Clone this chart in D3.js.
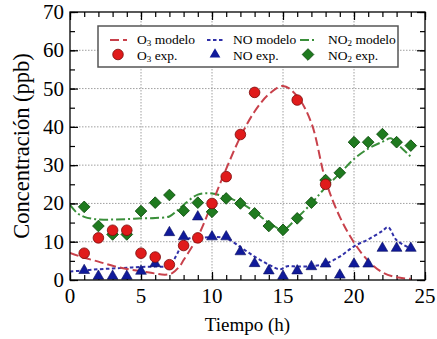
<!DOCTYPE html>
<html>
<head>
<meta charset="utf-8">
<script src="https://cdn.jsdelivr.net/npm/d3@7"></script>
<style>
  body { margin: 0; background: #fff; }
</style>
</head>
<body>
<div class="canvas"></div>
<script>
// experimental points (hour, ppb)
const o3Hours = [1, 2, 3, 4, 5, 6, 7, 8, 9, 10, 11, 12, 13, 16, 18];
const o3Exp = [7, 11, 13, 13, 7, 6, 4, 9, 11, 20, 27, 38, 49, 47, 25];

const noHours = [1, 2, 3, 4, 5, 6, 7, 8, 9, 10, 11, 12, 13, 14, 15, 16, 17, 18, 19, 20, 21, 22, 23, 24];
const noExp = [2.5, 1, 1, 1, 2.3, 4.3, 12.4, 11.3, 16.5, 11.3, 11.3, 7.4, 4.3, 2.4, 1, 2.4, 3.5, 4.2, 1.3, 4.2, 4.2, 8.3, 8.3, 8.3];

const no2Hours = [1, 2, 3, 4, 5, 6, 7, 8, 9, 10, 11, 12, 13, 14, 15, 16, 17, 18, 19, 20, 21, 22, 23, 24];
const no2Exp = [19.1, 14.1, 11.9, 11.9, 18, 20.2, 22.2, 18.1, 20.2, 17.8, 21.3, 20, 17.4, 14.1, 13.1, 16.1, 20.2, 26.1, 28, 36, 36, 38.1, 36, 35.1];

// model curves (hour, ppb)
const o3ModelHours = [0, 1, 2, 3, 4, 5, 6, 6.7, 7.2, 7.7, 8, 9, 10, 11, 12, 13, 14, 15, 16, 17, 18, 19, 20, 21, 22, 23, 24];
const o3Model = [7.1, 5.8, 4.8, 3.7, 2.9, 2.3, 1.7, 1.4, 1.8, 3.5, 5.2, 11.3, 20, 29, 37.4, 44, 48.5, 50.7, 48, 41, 26, 16.5, 9.8, 5, 2, 0.7, 0.3];

const noModelHours = [0, 1, 2, 3, 4, 5, 6, 7, 7.5, 8, 8.5, 9, 10, 11, 12, 13, 14, 14.8, 15.3, 16, 17, 18, 19, 20, 21, 22, 22.4, 23, 24];
const noModel = [2.2, 2.5, 2.8, 3.0, 3.2, 3.4, 3.5, 3.8, 6.5, 10, 11, 11, 11.2, 10.9, 8.6, 6.1, 4, 2.8, 3.6, 3.5, 3.6, 4.3, 6.1, 8.8, 10.6, 12.8, 13.8, 10.4, 8.2];

const no2ModelHours = [0, 0.5, 1, 2, 3, 4, 5, 6, 7, 7.5, 8, 9, 10, 11, 12, 13, 14, 15, 16, 17, 18, 19, 20, 21, 22, 22.6, 23, 24];
const no2Model = [19.6, 17.5, 16.5, 15.8, 15.8, 15.9, 16.1, 16.2, 16.6, 18, 19.6, 22.3, 22.6, 21.6, 20.2, 17.8, 15, 13.2, 16.3, 20, 24.2, 27.8, 31.6, 34.3, 36.1, 37, 35.7, 32.2];

const xTicks = [0, 5, 10, 15, 20, 25];
const yTicks = [0, 10, 20, 30, 40, 50, 60, 70];

// margins and dimensions
const w = 437;
const h = 339;
const margin = { top: 12, right: 12, bottom: 59, left: 70 };
const graphWidth = w - margin.left - margin.right;
const graphHeight = h - margin.top - margin.bottom;
const serif = "'Liberation Serif', 'Times New Roman', Times, serif";

const red = "#e01b1b";
const redLine = "#c8414b";
const blue = "#101a9a";
const blueLine = "#3030a8";
const green = "#1f7a1f";
const greenLine = "#3a8f3a";

const svg = d3
  .select(".canvas")
  .append("svg")
  .attr("width", w)
  .attr("height", h)
  .style("font-family", serif);

const graph = svg
  .append("g")
  .attr("transform", `translate(${margin.left}, ${margin.top})`);

const xScale = d3.scaleLinear().domain([0, 25]).range([0, graphWidth]);
const yScale = d3.scaleLinear().domain([0, 70]).range([graphHeight, 0]);

// dotted grid
graph
  .selectAll(".vgrid")
  .data(xTicks.slice(1, -1))
  .enter()
  .append("line")
  .attr("x1", (d) => xScale(d))
  .attr("x2", (d) => xScale(d))
  .attr("y1", 0)
  .attr("y2", graphHeight)
  .attr("stroke", "#888")
  .attr("stroke-width", 0.8)
  .attr("stroke-dasharray", "1.5,1.5");
graph
  .selectAll(".hgrid")
  .data(yTicks.slice(1, -1))
  .enter()
  .append("line")
  .attr("x1", 0)
  .attr("x2", graphWidth)
  .attr("y1", (d) => yScale(d))
  .attr("y2", (d) => yScale(d))
  .attr("stroke", "#888")
  .attr("stroke-width", 0.8)
  .attr("stroke-dasharray", "1.5,1.5");

// ticks on all four sides, pointing inwards
const minorX = d3.range(0, 26, 1);
const minorY = d3.range(0, 71, 5);
const addAxis = (axis, transform) => {
  graph
    .append("g")
    .attr("transform", transform)
    .call(axis)
    .call((g) => g.select(".domain").remove())
    .call((g) => g.selectAll("line").attr("stroke", "#000").attr("stroke-width", 1.2));
};
addAxis(d3.axisBottom(xScale).tickValues(minorX).tickSize(-5).tickFormat(""), `translate(0, ${graphHeight})`);
addAxis(d3.axisBottom(xScale).tickValues(xTicks).tickSize(-8).tickFormat(""), `translate(0, ${graphHeight})`);
addAxis(d3.axisTop(xScale).tickValues(minorX).tickSize(-5).tickFormat(""), "translate(0, 0)");
addAxis(d3.axisTop(xScale).tickValues(xTicks).tickSize(-8).tickFormat(""), "translate(0, 0)");
addAxis(d3.axisLeft(yScale).tickValues(minorY).tickSize(-5).tickFormat(""), "translate(0, 0)");
addAxis(d3.axisLeft(yScale).tickValues(yTicks).tickSize(-8).tickFormat(""), "translate(0, 0)");
addAxis(d3.axisRight(yScale).tickValues(minorY).tickSize(-5).tickFormat(""), `translate(${graphWidth}, 0)`);
addAxis(d3.axisRight(yScale).tickValues(yTicks).tickSize(-8).tickFormat(""), `translate(${graphWidth}, 0)`);

// tick labels
graph
  .selectAll(".xlabel")
  .data(xTicks)
  .enter()
  .append("text")
  .attr("x", (d) => xScale(d))
  .attr("y", graphHeight + 23)
  .attr("text-anchor", "middle")
  .style("font-family", serif)
  .attr("font-size", 21)
  .text((d) => d);
graph
  .selectAll(".ylabel")
  .data(yTicks)
  .enter()
  .append("text")
  .attr("x", -6)
  .attr("y", (d) => yScale(d) + 7)
  .attr("text-anchor", "end")
  .style("font-family", serif)
  .attr("font-size", 21)
  .text((d) => d);

// axis titles
svg
  .append("text")
  .attr("x", margin.left + graphWidth / 2)
  .attr("y", 331)
  .attr("text-anchor", "middle")
  .style("font-family", serif)
  .attr("font-size", 19)
  .text("Tiempo (h)");
svg
  .append("text")
  .attr("transform", `translate(29, ${margin.top + graphHeight / 2}) rotate(-90)`)
  .attr("text-anchor", "middle")
  .style("font-family", serif)
  .attr("font-size", 22.5)
  .text("Concentración (ppb)");

// model lines
const line = d3
  .line()
  .x((d) => xScale(d[0]))
  .y((d) => yScale(d[1]))
  .curve(d3.curveCatmullRom.alpha(0.5));

const clip = svg.append("clipPath").attr("id", "clip");
clip.append("rect").attr("width", graphWidth).attr("height", graphHeight);

const lines = graph.append("g").attr("clip-path", "url(#clip)");
lines
  .append("path")
  .attr("d", line(d3.zip(no2ModelHours, no2Model)))
  .attr("fill", "none")
  .attr("stroke", greenLine)
  .attr("stroke-width", 2)
  .attr("stroke-dasharray", "9,3,2,3");
lines
  .append("path")
  .attr("d", line(d3.zip(noModelHours, noModel)))
  .attr("fill", "none")
  .attr("stroke", blueLine)
  .attr("stroke-width", 2)
  .attr("stroke-dasharray", "3.5,2.5");
lines
  .append("path")
  .attr("d", line(d3.zip(o3ModelHours, o3Model)))
  .attr("fill", "none")
  .attr("stroke", redLine)
  .attr("stroke-width", 2)
  .attr("stroke-dasharray", "9,4");

// experimental markers
const diamond = d3.symbol().type(d3.symbolSquare).size(68);
graph
  .selectAll(".no2")
  .data(d3.zip(no2Hours, no2Exp))
  .enter()
  .append("path")
  .attr("d", diamond)
  .attr("transform", (d) => `translate(${xScale(d[0])}, ${yScale(d[1])}) rotate(45)`)
  .attr("fill", green)
  .attr("stroke", "#0d4a0d")
  .attr("stroke-width", 0.8);

const triangle = d3.symbol().type(d3.symbolTriangle).size(50);
graph
  .selectAll(".no")
  .data(d3.zip(noHours, noExp))
  .enter()
  .append("path")
  .attr("d", triangle)
  .attr("transform", (d) => `translate(${xScale(d[0])}, ${yScale(d[1])})`)
  .attr("fill", blue)
  .attr("stroke", "#0a0f60")
  .attr("stroke-width", 0.6);

graph
  .selectAll(".o3")
  .data(d3.zip(o3Hours, o3Exp))
  .enter()
  .append("circle")
  .attr("cx", (d) => xScale(d[0]))
  .attr("cy", (d) => yScale(d[1]))
  .attr("r", 5.3)
  .attr("fill", red)
  .attr("stroke", "#7a0a0a")
  .attr("stroke-width", 0.8);

// plot frame
graph
  .append("rect")
  .attr("width", graphWidth)
  .attr("height", graphHeight)
  .attr("fill", "none")
  .attr("stroke", "#000")
  .attr("stroke-width", 1.3);

// legend
const legend = svg.append("g").attr("transform", "translate(98, 26)");
legend
  .append("rect")
  .attr("width", 300)
  .attr("height", 41)
  .attr("fill", "#fff")
  .attr("stroke", "#555")
  .attr("stroke-width", 1.5);

const legendText = (x, y, base, rest) => {
  const t = legend
    .append("text")
    .attr("x", x)
    .attr("y", y)
    .style("font-family", serif)
    .attr("font-size", 13.5);
  t.append("tspan").text(base);
  if (rest.sub) {
    t.append("tspan").attr("font-size", 9).attr("dy", 2).text(rest.sub);
    t.append("tspan").attr("dy", -2).text(rest.tail);
  } else {
    t.append("tspan").text(rest.tail);
  }
};

const cols = [
  { sx: 12, tx: 39, name: "O", sub: "3", color: redLine, dash: "9,4", marker: "circle" },
  { sx: 109, tx: 135, name: "NO", sub: "", color: blueLine, dash: "3.5,2.5", marker: "triangle" },
  { sx: 202, tx: 230, name: "NO", sub: "2", color: greenLine, dash: "9,3,2,3", marker: "diamond" }
];
cols.forEach((c) => {
  legend
    .append("line")
    .attr("x1", c.sx)
    .attr("x2", c.sx + 17)
    .attr("y1", 14)
    .attr("y2", 14)
    .attr("stroke", c.color)
    .attr("stroke-width", 2.2)
    .attr("stroke-dasharray", c.dash);
  legendText(c.tx, 17.5, c.name, { sub: c.sub, tail: " modelo" });
  legendText(c.tx, 33.5, c.name, { sub: c.sub, tail: " exp." });
  const mx = c.sx + 8;
  if (c.marker === "circle") {
    legend.append("circle").attr("cx", mx).attr("cy", 28.5).attr("r", 5.3).attr("fill", red).attr("stroke", "#7a0a0a").attr("stroke-width", 0.8);
  } else if (c.marker === "triangle") {
    legend.append("path").attr("d", triangle).attr("transform", `translate(${mx}, 28.5)`).attr("fill", blue);
  } else {
    legend.append("path").attr("d", diamond).attr("transform", `translate(${mx}, 28.5) rotate(45)`).attr("fill", green).attr("stroke", "#0d4a0d").attr("stroke-width", 0.8);
  }
});
</script>
</body>
</html>
